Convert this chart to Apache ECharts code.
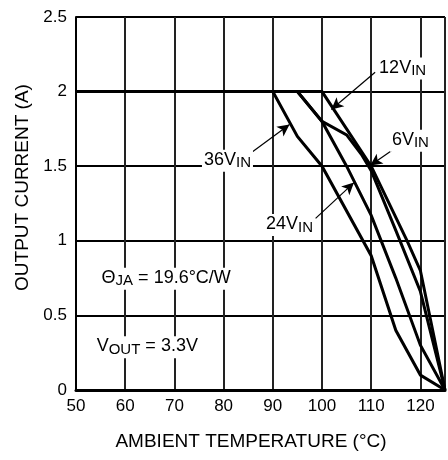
<!DOCTYPE html>
<html>
<head>
<meta charset="utf-8">
<title>Output current derating</title>
<script src="https://cdn.jsdelivr.net/npm/echarts@6/dist/echarts.min.js"></script>
<style>
  html, body { margin: 0; padding: 0; background: #fff; }
  #chart { width: 448px; height: 460px; }
</style>
</head>
<body>
<div id="chart"></div>
<script>
// derating curves, [temperature °C, current A]
const v36 = [[50, 2], [90, 2], [95, 1.7], [100, 1.5], [110, 0.9], [115, 0.4], [120, 0.1], [125, 0]]
const v24 = [[50, 2], [95, 2], [100, 1.8], [105, 1.5], [110, 1.17], [115, 0.75], [120, 0.3], [125, 0]]
const v6 = [[50, 2], [95, 2], [100, 1.8], [105, 1.71], [108, 1.58], [110, 1.47], [115, 1.07], [120, 0.66], [125, 0]]
const v12 = [[50, 2], [100, 2], [110, 1.5], [117.3, 1.0], [120, 0.8], [125, 0]]

// annotation arrows: [from, to] in data coords
const arrows = [
  [[110.8, 2.13], [101.9, 1.88]],   // 12V
  [[114.4, 1.61], [109.8, 1.505]],  // 6V
  [[85.6, 1.59], [93.4, 1.78]],     // 36V
  [[98.7, 1.15], [106.5, 1.39]]     // 24V
]

// annotation texts, anchor = top-left in data coords
const notes = [
  { at: [111.2, 2.228], text: '{m|12V}{s|IN}' },
  { at: [113.8, 1.745], text: '{m|6V}{s|IN}' },
  { at: [75.6, 1.61], text: '{m|36V}{s|IN}' },
  { at: [88.2, 1.18], text: '{m|24V}{s|IN}' },
  { at: [54.8, 0.82], text: '{m|Θ}{s|JA}{m| = 19.6°C/W}' },
  { at: [53.8, 0.36], text: '{m|V}{s|OUT}{m| = 3.3V}' }
]

const font = 'Liberation Sans, Arial, Helvetica, sans-serif'
const chart = echarts.init(document.getElementById('chart'))

const curve = (name, data) => ({
  name: name,
  type: 'line',
  data: data,
  showSymbol: false,
  symbol: 'none',
  lineStyle: { color: '#000', width: 3, join: 'miter' },
  z: 5
})

const option = {
  animation: false,
  grid: { left: 76, right: 1, top: 17, bottom: 70 },
  xAxis: {
    type: 'value',
    min: 50,
    max: 125,
    interval: 10,
    name: 'AMBIENT TEMPERATURE (°C)',
    nameLocation: 'middle',
    nameGap: 42,
    nameTextStyle: { color: '#000', fontSize: 19, fontFamily: font, padding: [0, 19, 0, 0] },
    axisLine: { lineStyle: { color: '#000', width: 3 } },
    axisTick: { show: false },
    axisLabel: {
      color: '#000', fontSize: 17, fontFamily: font, margin: 8,
      formatter: v => (v === 125 ? '' : String(v))
    },
    splitLine: { lineStyle: { color: '#222', width: 2 } }
  },
  yAxis: {
    type: 'value',
    min: 0,
    max: 2.5,
    interval: 0.5,
    name: 'OUTPUT CURRENT (A)',
    nameLocation: 'middle',
    nameGap: 44,
    nameTextStyle: { color: '#000', fontSize: 19, fontFamily: font, padding: [0, 0, 0, 32] },
    axisLine: { show: true, lineStyle: { color: '#000', width: 2 } },
    axisTick: { show: false },
    axisLabel: { color: '#000', fontSize: 17, fontFamily: font, margin: 9 },
    splitLine: { lineStyle: { color: '#000', width: 2 } }
  },
  series: [
    curve('36V', v36),
    curve('24V', v24),
    curve('6V', v6),
    Object.assign(curve('12V', v12), {
      markLine: {
        silent: true,
        symbol: ['none', 'arrow'],
        symbolSize: [9, 12],
        label: { show: false },
        lineStyle: { color: '#000', width: 1.2, type: 'solid' },
        data: arrows.map(a => [{ coord: a[0] }, { coord: a[1] }])
      }
    })
  ]
}

chart.setOption(option)

// place annotation texts from their data anchors
chart.setOption({
  graphic: notes.map(n => {
    const p = chart.convertToPixel({ gridIndex: 0 }, n.at)
    return {
      type: 'text',
      left: p[0],
      top: p[1],
      z: 10,
      style: {
        text: n.text,
        backgroundColor: '#fff',
        padding: [1, 2, 1, 2],
        rich: {
          m: { fontSize: 18, fontFamily: font, fill: '#000', lineHeight: 20, verticalAlign: 'top' },
          s: { fontSize: 15, fontFamily: font, fill: '#000', lineHeight: 20, verticalAlign: 'top', padding: [5, 0, 0, 0] }
        }
      }
    }
  })
})
</script>
</body>
</html>
